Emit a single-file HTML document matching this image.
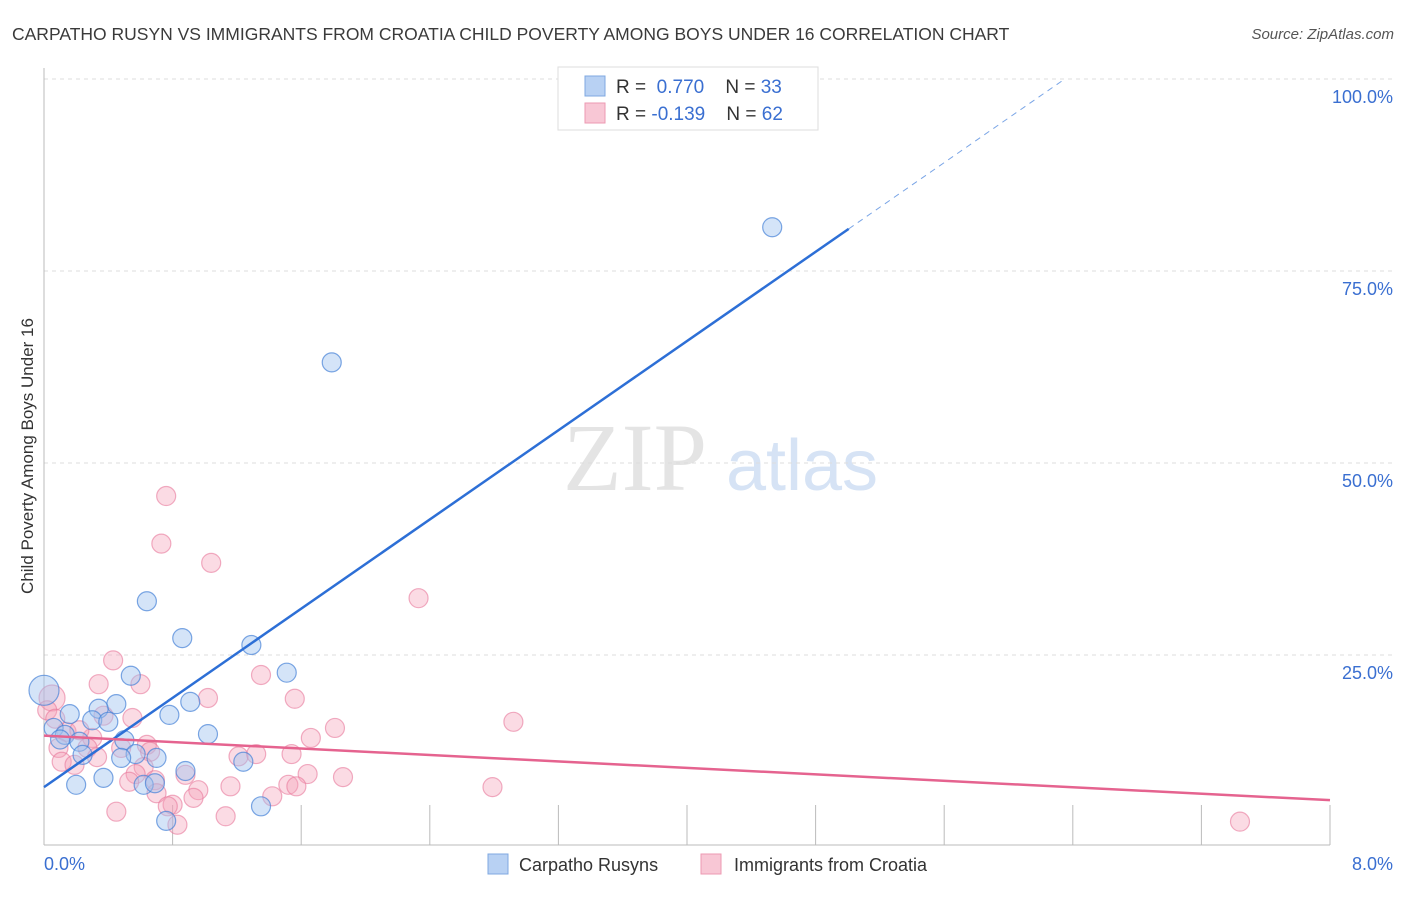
<!DOCTYPE html>
<html><head><meta charset="utf-8"><style>
body{margin:0;background:#fff;font-family:"Liberation Sans",sans-serif}
</style></head><body>
<svg id="c" width="1406" height="892" xmlns="http://www.w3.org/2000/svg" font-family="Liberation Sans, sans-serif">
<text x="12" y="40" font-size="17.5" fill="#3a3a3a">CARPATHO RUSYN VS IMMIGRANTS FROM CROATIA CHILD POVERTY AMONG BOYS UNDER 16 CORRELATION CHART</text>
<text x="1394" y="39" font-size="15" fill="#555" font-style="italic" text-anchor="end">Source: ZipAtlas.com</text>
<text transform="translate(33,456) rotate(-90)" font-size="17" fill="#333" text-anchor="middle">Child Poverty Among Boys Under 16</text>
<g>
<text x="635" y="490" font-size="96" font-family="Liberation Serif, serif" fill="#e4e4e4" text-anchor="middle">ZIP</text>
<text x="802" y="490" font-size="72" fill="#d6e3f5" text-anchor="middle">atlas</text>
</g>
<g id="grid"></g>
<g id="axes"></g>
<g id="marks"></g>
<g>
<rect x="558" y="67" width="260" height="63" fill="#fff" stroke="#ddd"/>
<rect x="585" y="76" width="20" height="20" fill="#b8d1f3" stroke="#7fa8e0"/>
<rect x="585" y="103" width="20" height="20" fill="#f8c7d5" stroke="#ec9ab2"/>
<text x="616" y="93" font-size="19" fill="#333">R = <tspan fill="#3a6fd1">&#160;0.770</tspan>&#160;&#160;&#160;&#160;N = <tspan fill="#3a6fd1">33</tspan></text>
<text x="616" y="120" font-size="19" fill="#333">R = <tspan fill="#3a6fd1">-0.139</tspan>&#160;&#160;&#160;&#160;N = <tspan fill="#3a6fd1">62</tspan></text>
</g>
<g>
<rect x="488" y="854" width="20" height="20" fill="#b8d1f3" stroke="#7fa8e0"/>
<text x="519" y="871" font-size="18" fill="#333">Carpatho Rusyns</text>
<rect x="701" y="854" width="20" height="20" fill="#f8c7d5" stroke="#ec9ab2"/>
<text x="734" y="871" font-size="18" fill="#333">Immigrants from Croatia</text>
</g>
</svg>
<script>
const yTicks=[25,50,75,100];
const yTickLabels=["25.0%","50.0%","75.0%","100.0%"];
const xTickLabels=["0.0%","8.0%"];
const blueX=[0,4.53,1.79,0.64,0.86,1.29,1.51,0.54,0.45,0.34,0.91,0.78,0.16,0.30,0.40,0.06,0.13,1.02,0.50,0.22,0.57,0.48,0.70,0.24,1.24,0.88,0.37,0.20,0.62,0.69,0.76,1.35,0.10];
const blueY=[20.4,80.7,63.1,32.0,27.2,26.3,22.7,22.3,18.6,18.0,18.9,17.2,17.3,16.5,16.3,15.5,14.6,14.7,13.9,13.7,12.1,11.6,11.6,12.0,11.1,9.9,9.0,8.1,8.1,8.3,3.4,5.3,14.0];
const pinkX=[0.76,0.73,1.04,2.33,0.43,0.60,0.34,1.35,1.02,1.56,0.05,0.02,2.92,0.55,1.81,1.66,0.30,0.14,0.64,0.09,0.48,0.27,0.66,1.21,1.32,1.54,0.33,0.11,0.19,0.62,1.64,1.86,0.57,0.88,0.53,0.69,1.16,0.96,1.52,1.57,2.79,0.70,1.42,0.93,0.80,0.77,0.45,1.13,0.83,7.44,0.07,0.37,0.22];
const pinkY=[45.7,39.5,37.0,32.4,24.3,21.2,21.2,22.4,19.4,19.3,19.4,17.8,16.3,16.8,15.5,14.2,14.2,15.0,13.3,12.9,12.9,12.9,12.4,11.8,12.1,12.1,11.7,11.1,10.7,10.4,9.5,9.1,9.5,9.4,8.5,8.7,7.9,7.4,8.1,7.9,7.8,7.0,6.6,6.4,5.5,5.3,4.6,4.0,2.9,3.3,16.7,17.1,15.2];
const blueTrend=[7.8,14.52];
const pinkTrend=[14.5,-1.05];
const X0=44,X1=1330,Y0=847,YH=79;
const sx=v=>X0+(X1-X0)*v/8;
const sy=v=>Y0-(Y0-YH)*v/100;
const NS="http://www.w3.org/2000/svg";
function mk(t,a,p){const e=document.createElementNS(NS,t);for(const k in a)e.setAttribute(k,a[k]);p.appendChild(e);return e;}
const grid=document.getElementById('grid'),axes=document.getElementById('axes'),marks=document.getElementById('marks');
yTicks.forEach((v,i)=>{
 const l=mk('line',{x1:X0,x2:1394,y1:sy(v),y2:sy(v),stroke:'#ddd','stroke-dasharray':'4,4'},grid);
 
 
 const t=mk('text',{x:1393,y:sy(v)+24,'font-size':18,fill:'#3a6fd1','text-anchor':'end'},axes);
 t.textContent=yTickLabels[i];
 
 
});
let a=mk('line',{x1:X0,x2:X0,y1:68,y2:845,stroke:'#bbb'},axes);


a=mk('line',{x1:X0,x2:X1,y1:845,y2:845,stroke:'#bbb'},axes);


for(let i=1;i<=10;i++){const x=X0+(X1-X0)*i/10;const t=mk('line',{x1:x,x2:x,y1:805,y2:845,stroke:'#bbb'},axes);
 
 }
xTickLabels.forEach((s,i)=>{const t=mk('text',{x:i?1393:44,y:870,'font-size':18,fill:'#3a6fd1','text-anchor':i?'end':'start'},axes);t.textContent=s;
 
 });
pinkX.forEach((x,i)=>{const r=(i==10)?13:9.5;const c=mk('circle',{cx:sx(x),cy:sy(pinkY[i]),r:r,fill:'rgba(244,160,185,0.38)',stroke:'rgba(232,120,155,0.6)','stroke-width':1.2},marks);
 
 });
blueX.forEach((x,i)=>{const r=i==0?15:9.5;const c=mk('circle',{cx:sx(x),cy:sy(blueY[i]),r:r,fill:'rgba(160,195,240,0.45)',stroke:'rgba(70,130,215,0.7)','stroke-width':1.2},marks);
 
 });
let ln=mk('line',{x1:sx(0),y1:sy(blueTrend[0]),x2:sx(5.006),y2:sy(blueTrend[0]+blueTrend[1]*5.006),stroke:'#2d6fd6','stroke-width':2.5},marks);


ln=mk('line',{x1:sx(5.006),y1:sy(blueTrend[0]+blueTrend[1]*5.006),x2:sx(6.33),y2:sy(blueTrend[0]+blueTrend[1]*6.33),stroke:'#7aa5e6','stroke-width':1,'stroke-dasharray':'6,5'},marks);


ln=mk('line',{x1:sx(0),y1:sy(pinkTrend[0]),x2:sx(8),y2:sy(pinkTrend[0]+pinkTrend[1]*8),stroke:'#e5638f','stroke-width':2.5},marks);


</script>
</body></html>
